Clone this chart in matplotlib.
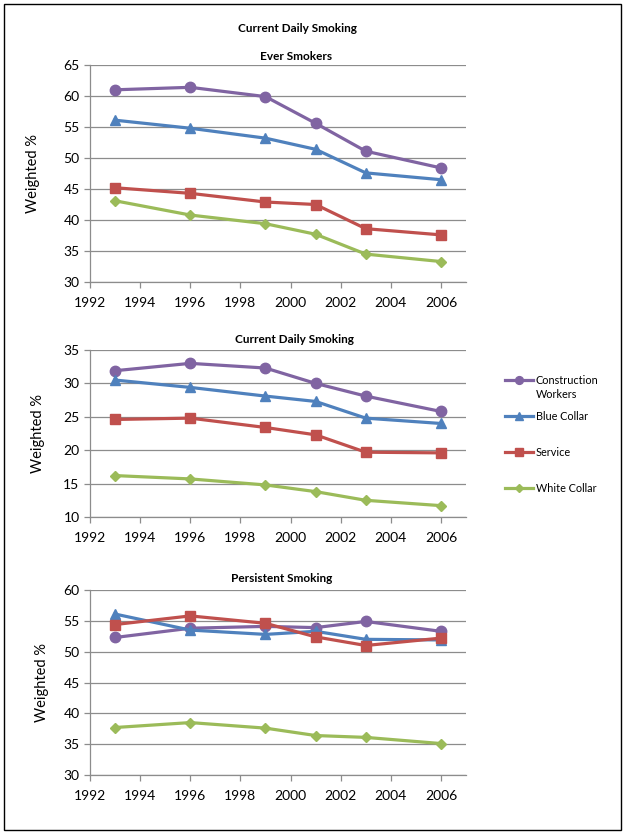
import matplotlib
matplotlib.use("Agg")
import matplotlib.pyplot as plt
from matplotlib.patches import Rectangle

plt.rcParams['font.family'] = ['Lato', 'DejaVu Sans']

years = [1993, 1996, 1999, 2001, 2003, 2006]
series_names = ["Construction", "Blue Collar", "Service", "White Collar"]
first_name_second_line = "Workers"

ever_construction = [61.0, 61.4, 59.9, 55.6, 51.1, 48.4]
ever_blue = [56.1, 54.8, 53.2, 51.4, 47.6, 46.5]
ever_service = [45.2, 44.3, 42.9, 42.5, 38.6, 37.6]
ever_white = [43.1, 40.8, 39.4, 37.7, 34.5, 33.3]

daily_construction = [31.9, 33.0, 32.3, 30.0, 28.1, 25.8]
daily_blue = [30.5, 29.4, 28.1, 27.3, 24.8, 24.0]
daily_service = [24.6, 24.8, 23.4, 22.3, 19.7, 19.6]
daily_white = [16.2, 15.7, 14.8, 13.8, 12.5, 11.7]

pers_construction = [52.3, 53.8, 54.1, 53.9, 54.9, 53.3]
pers_blue = [56.1, 53.5, 52.8, 53.3, 52.0, 51.9]
pers_service = [54.4, 55.8, 54.6, 52.4, 51.0, 52.2]
pers_white = [37.7, 38.5, 37.6, 36.4, 36.1, 35.1]

x_ticks = [1992, 1994, 1996, 1998, 2000, 2002, 2004, 2006]

colors = ["#8064A2", "#4F81BD", "#C0504D", "#9BBB59"]
markers = ["o", "^", "s", "D"]
msizes = [7.5, 7.5, 7, 5.5]

W, H = 624.0, 835.0
def fx(px):
    return px / W
def fy(py):
    return 1 - py / H

# (title, data, ylim, yticks, top_px, bottom_px, title_x_px, title_y_px, labelpad)
panels = [
    ("Ever Smokers", [ever_construction, ever_blue, ever_service, ever_white],
     (30, 65), list(range(30, 66, 5)), 65, 282, 296, 57, 17),
    ("Current Daily Smoking", [daily_construction, daily_blue, daily_service, daily_white],
     (10, 35), list(range(10, 36, 5)), 350, 517, 294, 339, 13),
    ("Persistent Smoking", [pers_construction, pers_blue, pers_service, pers_white],
     (30, 60), list(range(30, 61, 5)), 590, 775, 282, 578, 10),
]

left_px, right_px = 90, 466

fig = plt.figure(figsize=(6.24, 8.35), dpi=100)
fig.patches.append(Rectangle((fx(4), fy(830)), fx(621) - fx(4), fy(4) - fy(830),
                             transform=fig.transFigure, fill=False,
                             edgecolor="black", linewidth=1.0))

fig.text(fx(297), fy(28), "Current Daily Smoking", ha="center", va="center",
         fontsize=8.5, fontweight="bold")

handles = []
for i, (title, data, ylim, yticks, top, bot, tx, ty, lp) in enumerate(panels):
    ax = fig.add_axes([fx(left_px), fy(bot), fx(right_px) - fx(left_px), fy(top) - fy(bot)])
    for j, vals in enumerate(data):
        h, = ax.plot(years, vals, color=colors[j], marker=markers[j], markersize=msizes[j],
                     linewidth=2.3, label=series_names[j], zorder=3)
        if i == 1:
            handles.append(h)
    ax.set_xlim(1992, 2007)
    ax.set_ylim(*ylim)
    ax.set_yticks(yticks)
    ax.set_xticks(x_ticks)
    ax.yaxis.grid(True, color="#8C8C8C", linewidth=0.9)
    ax.set_axisbelow(True)
    for s in ["top", "right"]:
        ax.spines[s].set_visible(False)
    for s in ["left", "bottom"]:
        ax.spines[s].set_color("#8C8C8C")
        ax.spines[s].set_linewidth(0.9)
    ax.tick_params(axis="both", colors="#8C8C8C", labelcolor="black", labelsize=10,
                   length=4, width=0.9)
    ax.tick_params(axis="x", pad=7)
    ax.set_ylabel("Weighted %", fontsize=10.5, labelpad=lp)
    fig.text(fx(tx), fy(ty), title, ha="center", va="center",
             fontsize=8.5, fontweight="bold")

leg = fig.legend(handles, series_names, loc="upper left",
                 bbox_to_anchor=(fx(505), fy(375)),
                 frameon=False, fontsize=7.8, labelspacing=2.3, handlelength=2.6,
                 handletextpad=0.25, borderpad=0, borderaxespad=0, markerscale=0.75)

fig.canvas.draw()
bb = leg.get_texts()[0].get_window_extent(fig.canvas.get_renderer())
inv = fig.transFigure.inverted()
x0, y0 = inv.transform((bb.x0, bb.y0))
fig.text(x0, y0 - 14 / H, first_name_second_line, ha="left", va="bottom", fontsize=7.8)

fig.savefig("out.png", dpi=100)
